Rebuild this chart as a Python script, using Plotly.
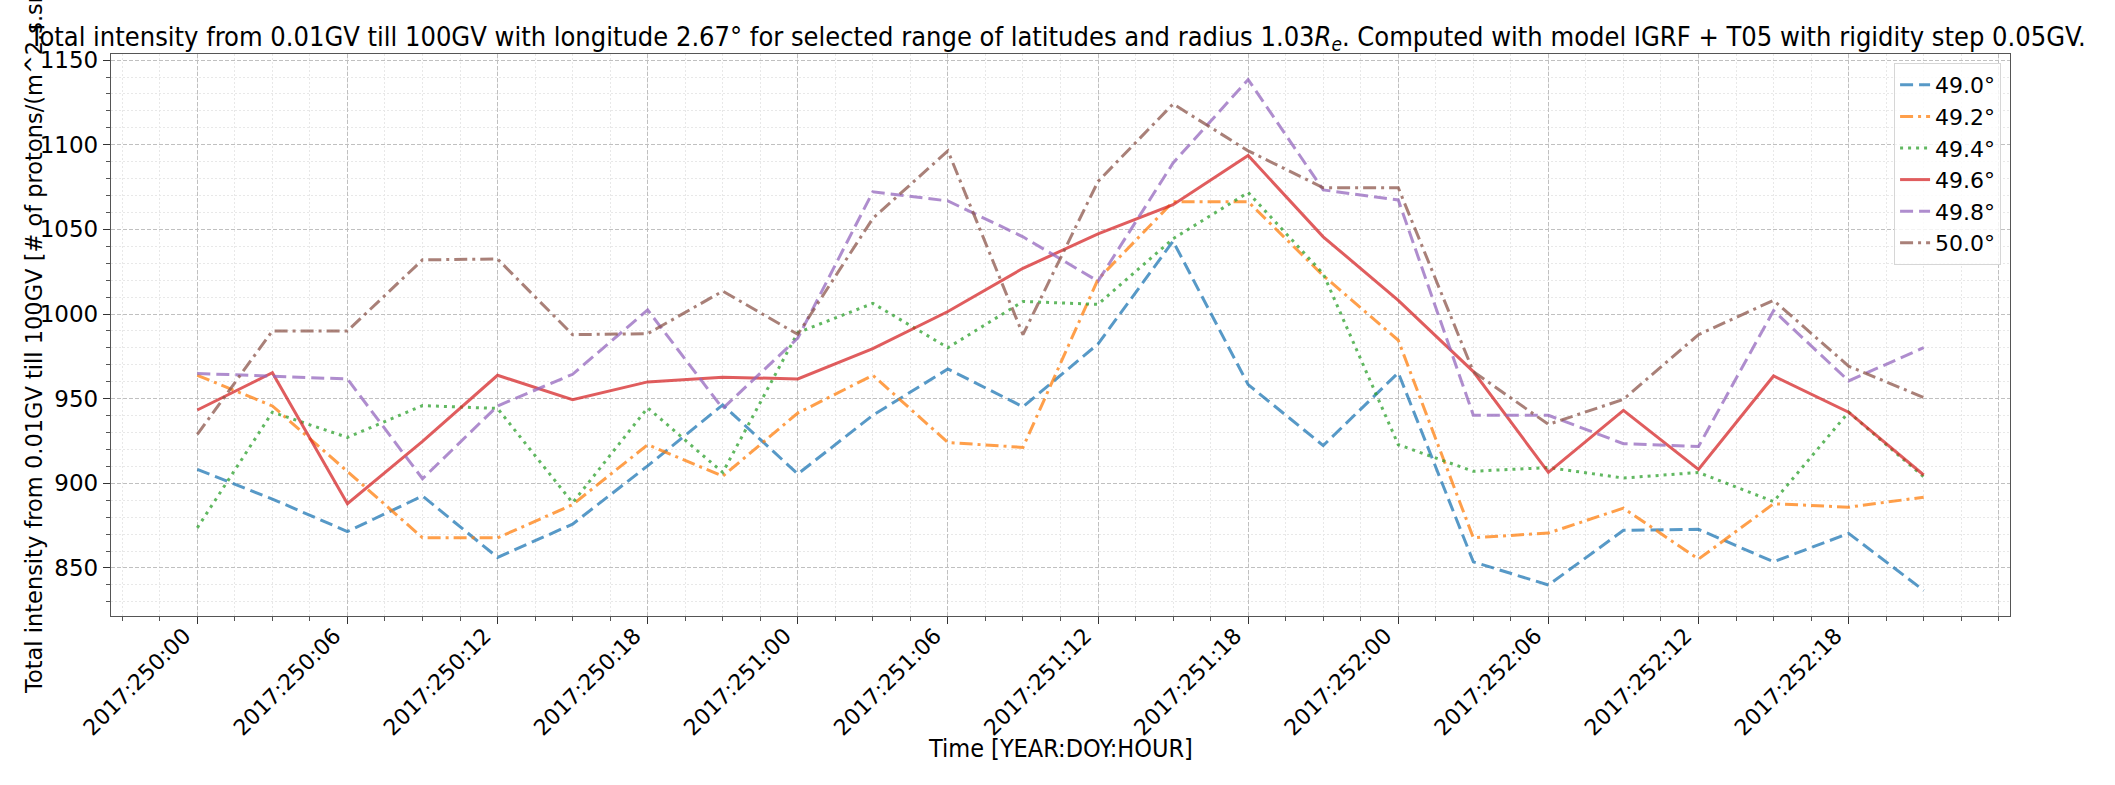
import plotly.graph_objects as go

hours = [0, 3, 6, 9, 12, 15, 18, 21, 24, 27, 30, 33, 36, 39, 42, 45, 48, 51, 54, 57, 60, 63, 66, 69]
tick_hours = [0, 6, 12, 18, 24, 30, 36, 42, 48, 54, 60, 66, 72]
tick_labels = ["2017:250:00", "2017:250:06", "2017:250:12", "2017:250:18",
               "2017:251:00", "2017:251:06", "2017:251:12", "2017:251:18",
               "2017:252:00", "2017:252:06", "2017:252:12", "2017:252:18", ""]

lat_49_0 = [908.2, 890.7, 871.5, 892.5, 856.2, 875.9, 910.3, 946.3, 905.5, 940.2, 967.5, 945.2,
            982.3, 1043.0, 958.3, 922.3, 965.3, 853.6, 839.9, 872.2, 872.8, 853.6, 870.4, 836.7]
lat_49_2 = [963.8, 945.7, 907.0, 867.8, 867.8, 887.4, 922.8, 904.2, 941.5, 963.8, 924.1, 921.2,
            1020.5, 1066.3, 1066.3, 1022.7, 984.5, 867.8, 870.6, 885.3, 855.2, 887.9, 885.9, 891.8]
lat_49_4 = [873.7, 942.0, 927.1, 945.9, 944.2, 888.5, 944.6, 906.4, 989.0, 1006.3, 980.1, 1007.4,
            1005.7, 1044.5, 1071.8, 1023.8, 922.8, 907.1, 909.3, 903.1, 906.4, 889.2, 942.0, 903.8]
lat_49_6 = [943.3, 965.3, 887.9, 924.8, 963.8, 949.4, 959.9, 962.7, 961.6, 979.5, 1001.5, 1027.0,
            1047.3, 1064.6, 1093.6, 1045.6, 1008.1, 966.0, 906.4, 943.1, 908.2, 963.4, 942.0, 904.9]
lat_49_8 = [964.9, 963.1, 961.6, 902.7, 945.7, 964.4, 1002.4, 944.2, 985.8, 1072.2, 1066.8, 1045.6,
            1019.4, 1089.2, 1138.5, 1073.3, 1067.4, 940.2, 940.2, 923.4, 921.7, 1002.0, 960.5, 980.1]
lat_50_0 = [928.9, 990.0, 990.0, 1032.0, 1032.5, 987.8, 988.4, 1013.5, 988.0, 1056.5, 1096.4, 987.8,
            1078.3, 1124.1, 1096.4, 1074.6, 1074.6, 966.0, 934.8, 949.6, 987.8, 1008.1, 969.2, 950.7]

series_names = ["49.0°", "49.2°", "49.4°", "49.6°", "49.8°", "50.0°"]
series_values = [lat_49_0, lat_49_2, lat_49_4, lat_49_6, lat_49_8, lat_50_0]
colors = ["rgba(31,119,180,0.75)", "rgba(255,127,14,0.75)", "rgba(44,160,44,0.75)",
          "rgba(214,39,40,0.75)", "rgba(148,103,189,0.75)", "rgba(140,86,75,0.75)"]
dashes = ["13px,6px", "13px,5px,3px,5px", "3px,5px", "solid", "13px,6px", "13px,5px,3px,5px"]

fig = go.Figure()
for name, vals, c, d in zip(series_names, series_values, colors, dashes):
    fig.add_trace(go.Scatter(x=hours, y=vals, mode="lines", name=name,
                             line=dict(color=c, width=3, dash=d)))

font_main = "DejaVu Sans"
font_cond = "DejaVu Sans Condensed, Liberation Sans Narrow, DejaVu Sans"

minor_x = [-3 + 1.5 * i for i in range(52)]

fig.update_layout(
    width=2115, height=785,
    margin=dict(l=111, r=105, t=54, b=169, autoexpand=False),
    paper_bgcolor="white", plot_bgcolor="white",
    font=dict(family=font_main, size=23, color="black"),
    title=dict(text="Total intensity from 0.01GV till 100GV with longitude 2.67° for selected range of latitudes and radius 1.03<i>R</i><sub><i>e</i></sub>. Computed with model IGRF + T05 with rigidity step 0.05GV.",
               x=0.5, xanchor="center", y=0.954, yanchor="middle",
               font=dict(family=font_cond, size=27, color="black")),
    legend=dict(x=0.9953, xanchor="right", y=0.984, yanchor="top",
                bgcolor="rgba(255,255,255,0.8)", bordercolor="#d6d6d6", borderwidth=1,
                font=dict(family=font_main, size=22), tracegroupgap=0),
    showlegend=True,
    annotations=[
        dict(text="Total intensity from 0.01GV till 100GV [# of protons/(m^2.s.sr)]",
             xref="paper", yref="paper", x=0, y=0.5, xshift=-77,
             xanchor="center", yanchor="middle", textangle=-90, showarrow=False,
             font=dict(family=font_main, size=22.5, color="black")),
        dict(text="Time [YEAR:DOY:HOUR]",
             xref="paper", yref="paper", x=0.5, y=0, yshift=-132,
             xanchor="center", yanchor="middle", showarrow=False,
             font=dict(family=font_cond, size=25, color="black")),
    ],
)
fig.update_xaxes(
    range=[-3.45, 72.45], automargin=False,
    tickmode="array", tickvals=tick_hours, ticktext=tick_labels, tickangle=-45,
    ticks="outside", ticklen=7, tickcolor="#333",
    ticklabelshift=-13, ticklabelstandoff=-10,
    showgrid=True, gridcolor="#c0c0c0", griddash="4px,2px", gridwidth=1,
    showline=True, linecolor="#555", linewidth=1.3, mirror=True, zeroline=False,
    minor=dict(tickmode="array", tickvals=minor_x, ticks="outside", ticklen=4, tickcolor="#555",
               showgrid=True, gridcolor="#e8e8e8", griddash="2px,2px", gridwidth=1),
    tickfont=dict(family=font_main, size=22),
)
fig.update_yaxes(
    range=[821.6, 1153.6], automargin=False,
    tickmode="linear", tick0=850, dtick=50,
    ticks="outside", ticklen=7, tickcolor="#333",
    showgrid=True, gridcolor="#c0c0c0", griddash="4px,2px", gridwidth=1,
    showline=True, linecolor="#555", linewidth=1.3, mirror=True, zeroline=False,
    minor=dict(tickmode="linear", tick0=820, dtick=10, ticks="outside", ticklen=4, tickcolor="#555",
               showgrid=True, gridcolor="#e8e8e8", griddash="2px,2px", gridwidth=1),
    tickfont=dict(family=font_main, size=23),
)

fig.write_html("out.html", config={"displayModeBar": False},
               post_script="document.body.style.margin='0';document.body.style.overflow='hidden';")
